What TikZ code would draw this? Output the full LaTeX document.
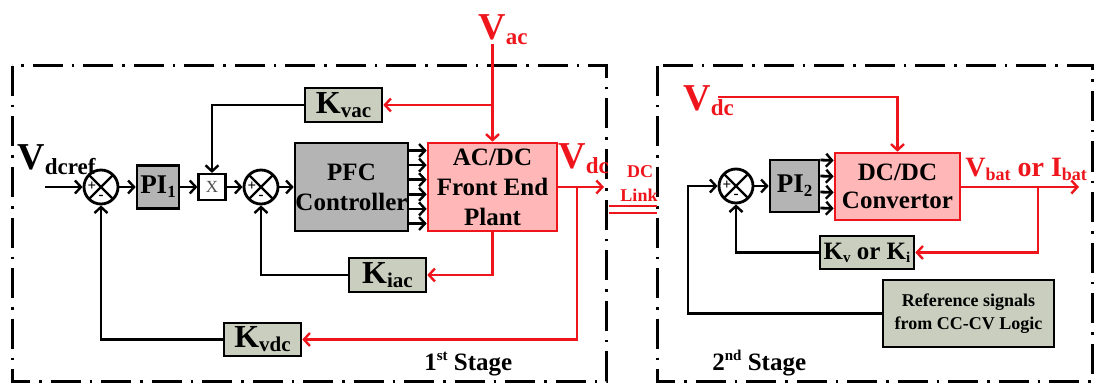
\documentclass[tikz,border=0pt]{standalone}
\usepackage{fontspec}
\setmainfont{Liberation Serif}
\usetikzlibrary{arrows.meta}
\definecolor{kfill}{RGB}{201,206,190}
\definecolor{gfill}{RGB}{180,180,180}
\definecolor{pfill}{RGB}{255,183,183}
\definecolor{myred}{RGB}{238,22,28}
\newcommand{\fs}[1]{\fontsize{#1}{#1}\selectfont}
\newcommand{\Ksub}[1]{{\fs{32}K}{\fs{21}\raisebox{-4pt}{#1}}}
\newcommand{\Vsub}[1]{{\fs{38}V}{\fs{23}\raisebox{-5pt}{#1}}}
\begin{document}
\begin{tikzpicture}[x=1pt,y=-1pt,line width=2.8pt,font=\bfseries,
  arr/.style={-{Straight Barb[length=6pt,width=13pt,line width=2.4pt]}},
  rline/.style={draw=myred,color=myred},
  kbox/.style={draw=black,fill=kfill,line width=2.6pt,inner sep=0pt,minimum width=77pt,minimum height=34pt},
  gbox/.style={draw=black,fill=gfill,line width=2.6pt,inner sep=0pt},
  pbox/.style={draw=myred,fill=pfill,line width=2.6pt,inner sep=0pt,align=center,font=\bfseries\fontsize{25}{30}\selectfont},
  sumj/.style={circle,draw=black,line width=2.8pt,minimum size=34pt,inner sep=0pt,
    path picture={\draw[line width=2.2pt] (path picture bounding box.north west) -- (path picture bounding box.south east)
      (path picture bounding box.north east) -- (path picture bounding box.south west);}},
  sgn/.style={font=\fs{15}\bfseries,inner sep=0pt,minimum size=0pt},
  frame/.style={line width=3pt,dash pattern=on 30pt off 9pt on 2.5pt off 9pt}]
\useasboundingbox (0,0) rectangle (1095,385);
\fill[white] (0,0) rectangle (1095,385);

% frames
\draw[frame] (12,66) rectangle (606,381);
\draw[frame] (657,66) rectangle (1092,381);

% ---------- stage 1 ----------
\node[anchor=base west,inner sep=0pt] (vdcref) at (16,170) {\Vsub{dcref}};
\node[anchor=base west,inner sep=0pt,text=myred] (vac) at (477,40) {\Vsub{ac}};
\coordinate (vacin) at (492.5,44);
\coordinate (refin) at (45,187);

\node[sumj] (s1) at (101,187) {};
\node[sgn] at ([xshift=-9pt,yshift=1pt]s1.center) {+};
\node[sgn] at ([yshift=-10pt]s1.center) {-};
\node[gbox,minimum width=42pt,minimum height=43pt] (pi1) at (158,187) {\fs{27}PI\fs{17}\raisebox{-4pt}{1}};
\node[draw=black,fill=white,line width=2.2pt,minimum width=27pt,minimum height=26pt,inner sep=0pt,
  font=\mdseries\fs{17}\color{black!70}] (xb) at (212,187) {X};
\node[sumj] (s2) at (261,187) {};
\node[sgn] at ([xshift=-9pt,yshift=1pt]s2.center) {+};
\node[sgn] at ([yshift=-10pt]s2.center) {-};
\node[gbox,minimum width=113pt,minimum height=88pt,align=center,font=\bfseries\fontsize{25}{30}\selectfont] (pfc) at (351.5,187) {PFC\\Controller};
\node[pbox,minimum width=129pt,minimum height=88pt] (acdc) at (492.5,187) {AC/DC\\Front End\\Plant};
\node[kbox] (kvac) at (343.5,105) {\Ksub{vac}};
\node[kbox] (kiac) at (387.5,275) {\Ksub{iac}};
\node[kbox,minimum height=33pt] (kvdc) at (262.5,339.5) {\Ksub{vdc}};
\node[anchor=base west,inner sep=0pt,text=myred] (vdc1) at (557,168) {\Vsub{dc}};
\coordinate (dcout) at (604,187);
\coordinate (br1) at (577,187);
\node[anchor=base west,inner sep=0pt] (st1) at (423,370) {\fs{25}1\raisebox{10pt}{\fs{15}st} Stage};

\draw[arr] (refin) -- (s1.west);
\draw[arr] (s1.east) -- (pi1.west);
\draw[arr] (pi1.east) -- (xb.west);
\draw[arr] (xb.east) -- (s2.west);
\draw[arr] (s2.east) -- (pfc.west);
\foreach \dy in {36.5,21.9,7.3,-7.3,-21.9,-36.5}
  \draw[arr] ([yshift=\dy pt]pfc.east) -- ([yshift=\dy pt]acdc.west);
\draw[rline,arr] (vacin) -- (acdc.north);
\draw[rline,arr] (vacin |- kvac) -- (kvac.east);
\draw[arr] (kvac.west) -| (xb.north);
\draw[rline,arr] (acdc.south) |- (kiac.east);
\draw[arr] (kiac.west) -| (s2.south);
\draw[rline,arr] (acdc.east) -- (dcout);
\draw[rline,arr] (br1) |- (kvdc.east);
\draw[arr] (kvdc.west) -| (s1.south);

% DC link
\node[text=myred,font=\bfseries\fs{18}] (dct) at (640,172) {DC};
\node[text=myred,font=\bfseries\fs{18}] (lkt) at (639,195) {Link};
\draw[myred,line width=2.4pt] (609,206) -- (657,206) (609,213) -- (657,213);

% ---------- stage 2 ----------
\node[anchor=base west,inner sep=0pt,text=myred] (vdc2) at (682,111) {\Vsub{dc}};
\coordinate (vdc2s) at (718,97);
\node[sumj] (s3) at (736,186) {};
\node[sgn] at ([xshift=-9pt,yshift=1pt]s3.center) {+};
\node[sgn] at ([yshift=-10pt]s3.center) {-};
\node[gbox,minimum width=49pt,minimum height=52pt] (pi2) at (794.5,186) {\fs{27}PI\fs{17}\raisebox{-4pt}{2}};
\node[pbox,minimum width=125pt,minimum height=67pt,font=\bfseries\fontsize{25}{28}\selectfont] (dcdc) at (897.5,186.5) {DC/DC\\Convertor};
\node[kbox,minimum width=94pt,minimum height=33pt] (kvki) at (867,252.5) {{\fs{25}K}{\fs{15}\raisebox{-3pt}{v}}{\fs{25} or K}{\fs{15}\raisebox{-3pt}{i}}};
\node[kbox,minimum width=171pt,minimum height=67pt,align=center,font=\bfseries\fontsize{18}{23}\selectfont] (ref) at (968.5,313.5) {Reference signals\\from CC-CV Logic};
\node[anchor=base west,inner sep=0pt,text=myred] (vbat) at (964,176) {{\fs{28}V}{\fs{18}\raisebox{-4pt}{bat}}{\fs{28} or I}{\fs{18}\raisebox{-4pt}{bat}}};
\coordinate (batout) at (1079,187);
\coordinate (br2) at (1038,187);
\coordinate (c3) at (688,313.5);
\node[anchor=base west,inner sep=0pt] (st2) at (711,370) {\fs{25}2\raisebox{10pt}{\fs{15}nd} Stage};

\draw[arr] (s3.east) -- (pi2.west);
\foreach \dy in {26,10,-6,-22}
  \draw[arr] ([yshift=\dy pt]pi2.east) -- ([yshift=\dy pt]dcdc.west);
\draw[rline,arr] (vdc2s) -| (dcdc.north);
\draw[rline,arr] (dcdc.east |- batout) -- (batout);
\draw[rline,arr] (br2) |- (kvki.east);
\draw[arr] (kvki.west) -| (s3.south);
\draw[arr] (ref.west) -- (c3) |- (s3.west);
\end{tikzpicture}
\end{document}
